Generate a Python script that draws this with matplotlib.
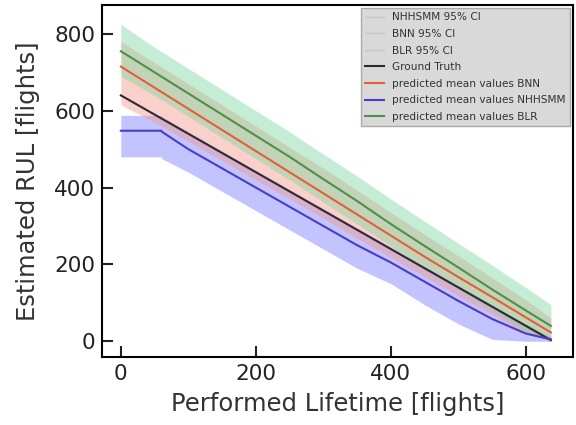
import matplotlib.pyplot as plt
from matplotlib.lines import Line2D
import numpy as np

# performed lifetime [flights]
x = np.array([0, 50, 100, 150, 200, 250, 300, 350, 400, 450, 500, 550, 600, 637])

gt = np.array([640, 590, 540, 490, 440, 390, 340, 290, 240, 190, 140, 90, 40, 3])

# BLR
blr_mean = np.array([755, 700, 645, 590, 535, 480, 422, 365, 305, 248, 192, 135, 80, 40])
blr_low = np.array([690, 640, 585, 530, 475, 420, 362, 305, 248, 190, 135, 80, 25, 0])
blr_up = np.array([825, 765, 710, 655, 600, 545, 487, 430, 370, 312, 255, 198, 140, 95])

# BNN
bnn_mean = np.array([715, 660, 605, 550, 495, 440, 385, 330, 275, 220, 167, 115, 62, 23])
bnn_low = np.array([615, 570, 520, 470, 420, 370, 320, 268, 218, 168, 118, 70, 20, 0])
bnn_up = np.array([780, 725, 670, 615, 560, 505, 450, 393, 335, 278, 222, 165, 108, 60])

# NHHSMM
hsmm_x = np.array([0, 60, 61, 100, 150, 200, 250, 300, 350, 400, 450, 500, 550, 600, 637])
hsmm_mean = np.array([548, 548, 545, 500, 450, 400, 350, 300, 250, 205, 155, 105, 58, 20, 5])
hsmm_low = np.array([480, 480, 475, 440, 390, 340, 290, 240, 190, 150, 95, 45, 5, 0, 0])
hsmm_up = np.array([588, 588, 585, 545, 495, 445, 395, 345, 295, 245, 195, 145, 95, 45, 12])

fig = plt.figure(figsize=(5.76, 4.25), dpi=100)
ax = fig.add_axes([0.177, 0.16, 0.818, 0.828])

ax.fill_between(hsmm_x, hsmm_low, hsmm_up, color="#7b7bff", alpha=0.45, lw=0, label="NHHSMM 95% CI")
ax.fill_between(x, bnn_low, bnn_up, color="#f59a8a", alpha=0.45, lw=0, label="BNN 95% CI")
ax.fill_between(x, blr_low, blr_up, color="#7fd6a0", alpha=0.45, lw=0, label="BLR 95% CI")

ax.plot(x, gt, color="#2b2b35", lw=1.5)
ax.plot(x, bnn_mean, color="#e0603a", lw=1.5)
ax.plot(hsmm_x, hsmm_mean, color="#4a3cc8", lw=1.5)
ax.plot(x, blr_mean, color="#4f8f4a", lw=1.5)

ax.set_xlim(-28, 670)
ax.set_ylim(-41, 875)
ax.set_xticks([0, 200, 400, 600])
ax.set_yticks([0, 200, 400, 600, 800])
ax.tick_params(direction="in", length=8, width=1.5, labelsize=15.5, colors="#222222", pad=5)
for s in ax.spines.values():
    s.set_linewidth(1.5)
ax.set_xlabel("Performed Lifetime [flights]", fontsize=17.5, color="#333333", labelpad=6)
ax.set_ylabel("Estimated RUL [flights]", fontsize=17.5, color="#333333", labelpad=10)

handles = [
    Line2D([], [], color="#c8c8c8", lw=1),
    Line2D([], [], color="#c8c8c8", lw=1),
    Line2D([], [], color="#c8c8c8", lw=1),
    Line2D([], [], color="#2b2b35", lw=1.5),
    Line2D([], [], color="#e0603a", lw=1.5),
    Line2D([], [], color="#4a3cc8", lw=1.5),
    Line2D([], [], color="#4f8f4a", lw=1.5),
]
labels = ["NHHSMM 95% CI", "BNN 95% CI", "BLR 95% CI", "Ground Truth",
          "predicted mean values BNN", "predicted mean values NHHSMM",
          "predicted mean values BLR"]
leg = ax.legend(handles, labels, loc="upper right", fontsize=7.6, facecolor="#d9d9d9",
                edgecolor="#aaaaaa", framealpha=1, fancybox=False, labelcolor="#333333",
                labelspacing=0.62, borderaxespad=0.3, handlelength=1.8)

fig.savefig("out.png", dpi=100)
